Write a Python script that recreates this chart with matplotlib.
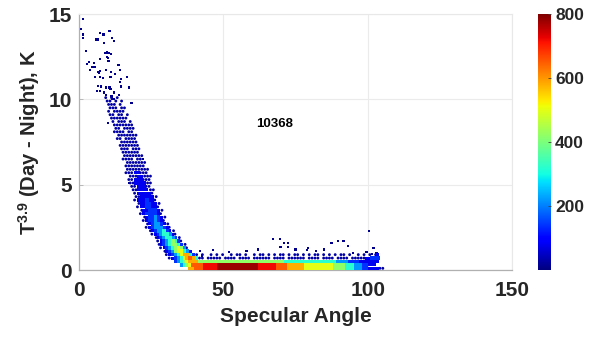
import matplotlib
matplotlib.use('Agg')
import matplotlib.pyplot as plt
import numpy as np

# ---------------- data ----------------
n_points = 10368
x_ticks = [0, 50, 100, 150]
y_ticks = [0, 5, 10, 15]
cbar_ticks = [200, 400, 600, 800]

# density code -> points per neighbourhood (colour value)
density_levels = {'1': 25, '2': 80, '3': 140, '4': 220, '5': 320, '6': 420,
                  '7': 500, '8': 580, '9': 650, 'R': 720, 'S': 780}

# binned dense part: (row centre in K, first 1-degree column, codes per column)
dense_rows = [
    (10.1, 9, "1.1.1"),
    (9.9, 9, "11.1.1"),
    (9.7, 9, ".111.1"),
    (9.5, 10, "111.11"),
    (9.3, 10, "1.1111"),
    (9.1, 10, "11.11.1"),
    (8.9, 11, "111111"),
    (8.7, 11, "1.111.1"),
    (8.5, 12, "1111111"),
    (8.3, 12, "11.1111"),
    (8.1, 12, "1111.11"),
    (7.9, 13, "1111111"),
    (7.7, 13, "11.1111"),
    (7.5, 14, "111111"),
    (7.3, 14, "1111111"),
    (7.1, 14, "111.111"),
    (6.9, 15, "111111"),
    (6.7, 15, "1111111"),
    (6.5, 15, "1111.11"),
    (6.3, 16, "1111111"),
    (6.1, 16, "1111111"),
    (5.9, 16, "11111111"),
    (5.7, 16, "11122111"),
    (5.5, 17, "11122111"),
    (5.3, 17, "11222111"),
    (5.1, 17, "11222211"),
    (4.9, 18, "1122211"),
    (4.7, 18, "11222211"),
    (4.5, 19, "1222221"),
    (4.3, 19, "11222221"),
    (4.1, 19, "12223221"),
    (3.9, 20, "12233221"),
    (3.7, 20, "12233221"),
    (3.5, 21, "12233321"),
    (3.3, 21, "12333321"),
    (3.1, 22, "12334321"),
    (2.9, 22, "12334321"),
    (2.7, 23, "12344321"),
    (2.5, 23, "123444321"),
    (2.3, 24, "123445321"),
    (2.1, 25, "123455421"),
    (1.9, 26, "123455431"),
    (1.7, 27, "123456531"),
    (1.5, 27, "1234566531"),
    (1.3, 28, "1234567641"),
    (1.1, 29, "1234677542"),
    (0.9, 30, "1234578853"),
    (0.9, 40, "1.1..1.1" + ".1..1.11" + ".1..1.11" + ".1.1.11." + "1.11.1.1"
              + ".11.1.1." + "1.11.1.." + "1.1.1.12"),
    (0.7, 31, "1234578985"),
    (0.7, 41, "11.11111" + ".1111.11" + "11.11111" + "1.1111.1" + "11111.11"
              + "11.1111." + "1111.111" + "1122333"),
    (0.5, 33, "34567888" + "6" * 30 + "5" * 18 + "4444" + "3333" + "2222222"),
    (0.3, 35, "4567" + "9999" + "RRRRR" + "S" * 14 + "R" * 6 + "9999" + "8" * 6
              + "7" * 10 + "6666" + "555" + "444" + "33" + "222"),
    (0.1, 38, "88" + "999" + "RRRRR" + "S" * 14 + "R" * 6 + "9999" + "8" * 6
              + "7" * 10 + "6666" + "555" + "444" + "33" + "2222" + "11"),
]

# isolated points (specular angle, K)
sparse_x = [1.3, 0.8, 1.4, 1.4, 7.2, 8.5, 10.6, 6.0, 6.6, 11.4, 12.0, 8.7, 2.5, 9.0,
            9.6, 10.3, 11.0, 9.7, 10.0, 10.2, 3.4, 2.8, 5.1, 7.4, 4.5, 5.4, 3.9, 6.6,
            7.0, 7.4, 9.3, 11.0, 13.7, 14.3, 5.5, 7.3, 8.3, 10.9, 12.4, 6.6, 7.7, 9.4,
            10.6, 14.3, 14.5, 16.5, 6.2, 7.2, 8.7, 10.9, 12.0, 14.6, 17.3, 9.3, 11.3,
            13.9, 11.4, 12.2, 18.2, 10.0, 22.3, 26.8, 17.3,
            46.4, 67.2, 69.5, 71.1, 72.4, 72.3, 69.8, 87.5, 89.6, 91.6, 93.3, 79.3,
            78.9, 103.1, 99.6, 100.5, 42.0, 52.0, 58.0, 62.0, 75.0, 82.0, 85.0, 95.0,
            102.0, 101.5, 37.8, 42.5]
sparse_y = [14.7, 14.1, 13.8, 13.6, 13.9, 13.8, 14.0, 13.5, 13.5, 13.6, 13.4, 13.3, 12.85,
            12.7, 12.75, 12.7, 12.65, 12.5, 12.4, 12.25, 12.2, 12.05, 12.15, 12.35, 11.9,
            11.9, 11.7, 11.6, 11.55, 11.65, 11.7, 11.6, 12.0, 11.7, 11.3, 11.3, 11.25,
            11.3, 11.5, 10.8, 10.75, 10.7, 10.7, 11.0, 11.2, 11.3, 10.5, 10.5, 10.4, 10.6,
            10.4, 10.75, 10.7, 10.25, 10.2, 10.25, 10.05, 10.0, 9.8, 8.6, 6.5, 3.8, 5.1,
            1.17, 1.8, 1.8, 1.6, 1.6, 1.35, 1.35, 1.56, 1.7, 1.7, 1.4, 1.29,
            1.17, 0.98, 1.07, 2.28, 1.1, 1.05, 1.1, 1.2, 1.2, 1.1, 1.2, 1.0,
            1.3, 0.95, 1.05, 0.82]
sparse_density = 10

# ---------------- build the marks ----------------
cx, cy, cd = [], [], []
for r, (yc, x0, codes) in enumerate(dense_rows):
    for k, ch in enumerate(codes):
        if ch == '.':
            continue
        lvl = density_levels[ch]
        # sparse bins drawn on a staggered layout so they read as speckle
        shift = (0.25 if r % 2 else -0.25) if lvl <= 25 else 0.0
        cx.append(x0 + k + 0.5 + shift)
        cy.append(yc)
        cd.append(lvl)
cx, cy, cd = np.array(cx), np.array(cy), np.array(cd)
order = np.argsort(cd, kind='stable')
cx, cy, cd = cx[order], cy[order], cd[order]

plt.rcParams['font.family'] = ['Liberation Sans', 'DejaVu Sans']
plt.rcParams['mathtext.fontset'] = 'custom'
plt.rcParams['mathtext.rm'] = 'Liberation Sans:bold'
plt.rcParams['mathtext.bf'] = 'Liberation Sans:bold'

W, H = 593, 338
fig = plt.figure(figsize=(W / 100, H / 100), dpi=100)
ax = fig.add_axes([79 / W, (H - 270) / H, (512 - 79) / W, (270 - 14) / H])
cax = fig.add_axes([538 / W, (H - 270) / H, 13 / W, (270 - 14) / H])

cmap = plt.get_cmap('jet')
ax.scatter(sparse_x, sparse_y, c=[sparse_density] * len(sparse_x), cmap=cmap,
           vmin=0, vmax=800, marker='s', s=2.6, linewidths=0, zorder=3)
low = cd <= 25
ax.scatter(cx[low], cy[low], c=cd[low], cmap=cmap, vmin=0, vmax=800, marker='o',
           s=4.2, linewidths=0, zorder=3)
mid = (cd > 25) & (cd <= 80)
ax.scatter(cx[mid], cy[mid], c=cd[mid], cmap=cmap, vmin=0, vmax=800, marker='s',
           s=5.0, linewidths=0, zorder=3)
hi = cd > 80
sc = ax.scatter(cx[hi], cy[hi], c=cd[hi], cmap=cmap, vmin=0, vmax=800, marker='s',
                s=6.5, linewidths=0, zorder=3)

ax.text(67.9, 8.55, str(n_points), ha='center', va='center', fontsize=9.5,
        fontweight='bold', color='black', zorder=4)

ax.set_xlim(0, 150)
ax.set_ylim(0, 15)
ax.set_xticks(x_ticks)
ax.set_yticks(y_ticks)
ax.grid(True, color='#ebebeb', linewidth=0.8, zorder=0)
ax.set_axisbelow(True)
tc = '#262626'
ax.tick_params(direction='in', length=3, width=0.6, colors='#b0b0b0',
               labelcolor=tc, labelsize=15)
ax.tick_params(axis='x', pad=8)
ax.tick_params(axis='y', pad=5)
for lab in ax.get_xticklabels() + ax.get_yticklabels():
    lab.set_fontweight('bold')
for s in ['left', 'bottom']:
    ax.spines[s].set_color('#b0b0b0')
    ax.spines[s].set_linewidth(0.9)
for s in ['top', 'right']:
    ax.spines[s].set_color('#e8e8e8')
    ax.spines[s].set_linewidth(0.8)

ax.set_xlabel('Specular Angle', fontsize=15, fontweight='bold', color=tc)
ax.set_ylabel(r'T$^{3.9}$ (Day - Night), K', fontsize=14.5, fontweight='bold', color=tc)
ax.xaxis.set_label_coords(0.5, -0.145)
ax.yaxis.set_label_coords(-0.085, 0.5)

cb = fig.colorbar(sc, cax=cax, ticks=cbar_ticks)
cb.outline.set_visible(False)
cax.tick_params(direction='in', length=2.5, width=0.6, colors='#404040',
                labelcolor=tc, labelsize=12.5, pad=3)
for lab in cax.get_yticklabels():
    lab.set_fontweight('bold')

fig.savefig('out.png', dpi=100)
